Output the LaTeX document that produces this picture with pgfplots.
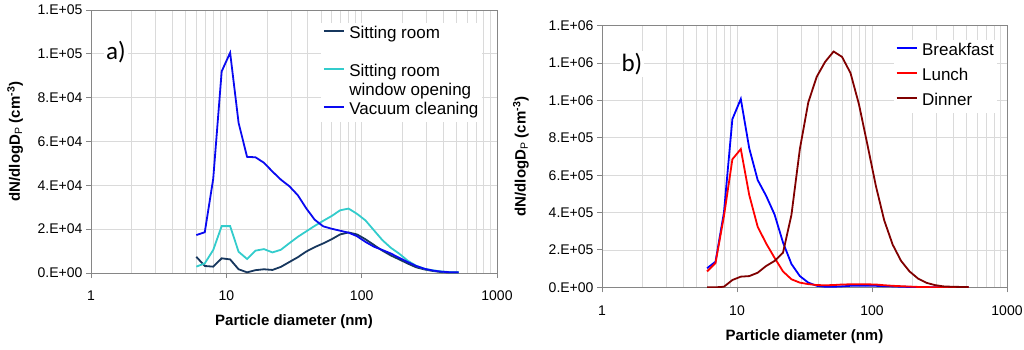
\documentclass[border=0pt]{standalone}
\usepackage{pgfplots}
\pgfplotsset{compat=1.18}
\usepackage{pgfplotstable}
\usepackage{fontspec}
\setmainfont{Liberation Sans}
\newfontfamily\carlito{Carlito}
\definecolor{navyc}{RGB}{23,55,94}
\definecolor{cyanc}{RGB}{51,204,204}
\definecolor{vacc}{RGB}{10,10,240}
\definecolor{bfc}{RGB}{0,0,255}
\definecolor{lunc}{RGB}{255,0,0}
\definecolor{dinc}{RGB}{128,0,0}
\definecolor{axc}{RGB}{134,134,134}
\definecolor{grc}{RGB}{218,218,218}

\pgfplotstableread{
x sit win vac
6.00 7.4 2.9 17.3
6.93 3.2 4.4 18.6
8.00 2.9 10.5 43.0
9.24 6.7 21.4 92.0
10.67 6.2 21.4 100.5
12.32 1.7 9.7 68.5
14.23 0.3 6.4 53.0
16.43 1.3 10.2 52.8
18.97 1.7 10.9 50.3
21.91 1.4 9.4 46.3
25.30 2.8 10.6 42.6
29.21 5.0 13.6 39.6
33.74 7.2 16.5 35.5
38.96 9.8 19.0 29.5
44.99 11.8 21.5 24.3
51.95 13.5 23.8 21.3
59.99 15.4 26.0 20.2
69.28 17.6 28.6 19.3
80.00 18.5 29.4 18.4
92.38 17.6 27.0 16.8
106.7 15.4 24.0 14.2
123.2 12.8 19.5 12.0
142.3 10.2 15.0 10.5
164.3 8.0 11.5 8.9
189.7 6.2 8.8 6.9
219.1 4.3 5.6 5.0
253.0 2.6 3.3 3.2
292.1 1.6 1.9 1.9
337.4 0.9 1.2 1.1
389.6 0.4 0.7 0.6
449.9 0.2 0.4 0.35
519.5 0.2 0.3 0.3
}\lefttable

\pgfplotstableread{
x bf lu di
6.00 102 85 0
6.93 137 130 0
8.00 400 380 3
9.24 900 685 39
10.67 1008 740 57
12.32 744 494 60
14.23 574 324 78
16.43 490 235 114
18.97 390 158 141
21.91 240 85 185
25.30 125 43 387
29.21 60 25 740
33.74 25 17 990
38.96 8 12 1127
44.99 3 11 1207
51.95 3 12 1262
59.99 5 15 1233
69.28 8 16 1147
80.00 9 16 980
92.38 9 16 765
106.7 8 15 544
123.2 6 11 358
142.3 5 8 228
164.3 3 6 141
189.7 2 4 85
219.1 1 2 47
253.0 0.5 1 24
292.1 0 0.5 12
337.4 0 0 5
389.6 0 0 3
449.9 0 0 2
519.5 0 0 2
}\righttable

\pgfplotsset{
  myaxis/.style={
    scale only axis,
    anchor=south west,
    xmin=1, xmax=1000, ymin=0,
    xtick={1,10,100,1000},
    xticklabels={1,10,100,1000},
    scaled y ticks=false,
    xmajorgrids, xminorgrids, ymajorgrids,
    major grid style={grc, line width=0.8pt},
    minor grid style={grc, line width=0.8pt},
    axis line style={axc, line width=1pt},
    tick style={axc, line width=1pt},
    major tick length=5pt, minor tick length=0pt,
    tick align=outside,
    xtick pos=bottom, ytick pos=left,
    tick label style={font=\fontsize{14}{16}\selectfont, text=black},
    label style={font=\bfseries\fontsize{15}{18}\selectfont},
    xlabel={Particle diameter (nm)},
    ylabel={dN/dlogD\textsubscript{\mdseries P} (cm\textsuperscript{-3})},
    legend style={draw=none, fill=white, font=\fontsize{17}{20}\selectfont,
      cells={anchor=west}, inner sep=2pt,
      nodes={text height=12pt, text depth=4pt, inner sep=1.5pt},
      /tikz/every odd column/.append style={column sep=3pt}},
    legend image code/.code={\draw[##1, line width=1.8pt] (0pt,0.35em) -- (20pt,0.35em);},
    every axis plot/.append style={line width=1.8pt},
  }
}

\begin{document}
\begin{tikzpicture}
\path[use as bounding box] (0pt,0pt) rectangle (1024pt,349pt);
\begin{semilogxaxis}[myaxis,
  at={(91pt,76pt)}, width=406pt, height=263pt,
  ymax=120000,
  ytick={0,20000,40000,60000,80000,100000,120000},
  yticklabels={0.E+00,2.E+04,4.E+04,6.E+04,8.E+04,1.E+05,1.E+05},
  xticklabel style={yshift=-9pt},
  xlabel style={at={(axis description cs:0.5,-0.185)}, anchor=center},
  ylabel style={at={(axis description cs:-0.187,0.5)}, anchor=center},
  legend style={at={(0.566,0.952)}, anchor=north west, row sep=0pt},
]
\addplot[navyc] table[x=x, y expr=\thisrow{sit}*1000] {\lefttable};
\addlegendentry{Sitting room}
\addlegendimage{empty legend}
\addlegendentry{}
\addplot[cyanc] table[x=x, y expr=\thisrow{win}*1000] {\lefttable};
\addlegendentry{Sitting room}
\addlegendimage{empty legend}
\addlegendentry{window opening}
\addplot[vacc] table[x=x, y expr=\thisrow{vac}*1000] {\lefttable};
\addlegendentry{Vacuum cleaning}
\node[fill=white, inner sep=2pt, font=\carlito\fontsize{25}{28}\selectfont] at (rel axis cs:0.0616,0.84) {a)};
\end{semilogxaxis}

\begin{semilogxaxis}[myaxis,
  at={(602pt,61.7pt)}, width=405pt, height=261.6pt,
  ymax=1400000,
  ytick={0,200000,400000,600000,800000,1000000,1200000,1400000},
  yticklabels={0.E+00,2.E+05,4.E+05,6.E+05,8.E+05,1.E+06,1.E+06,1.E+06},
  xticklabel style={yshift=-10pt},
  xlabel style={at={(axis description cs:0.5,-0.189)}, anchor=center},
  ylabel style={at={(axis description cs:-0.2,0.5)}, anchor=center},
  legend style={at={(0.72,0.947)}, anchor=north west, row sep=6pt},
]
\addplot[bfc] table[x=x, y expr=\thisrow{bf}*1000] {\righttable};
\addlegendentry{Breakfast}
\addplot[lunc] table[x=x, y expr=\thisrow{lu}*1000] {\righttable};
\addlegendentry{Lunch}
\addplot[dinc] table[x=x, y expr=\thisrow{di}*1000] {\righttable};
\addlegendentry{Dinner}
\node[fill=white, inner sep=2pt, font=\carlito\fontsize{25}{28}\selectfont] at (rel axis cs:0.074,0.855) {b)};
\end{semilogxaxis}
\end{tikzpicture}
\end{document}
